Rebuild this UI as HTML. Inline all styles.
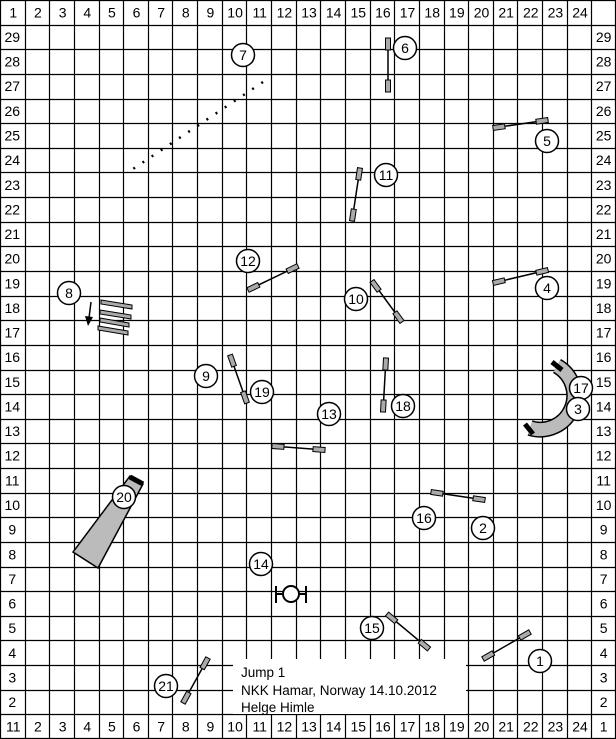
<!DOCTYPE html>
<html><head><meta charset="utf-8"><style>
html,body{margin:0;padding:0;background:#fff;}
svg{display:block;font-family:"Liberation Sans",sans-serif;}
</style></head><body>
<svg width="616" height="739" viewBox="0 0 616 739" xmlns="http://www.w3.org/2000/svg">
<defs>
<g id="w"><rect x="-6" y="-2.5" width="12" height="5" fill="#aaa" stroke="#000" stroke-width="1"/></g>
</defs>
<rect width="616" height="739" fill="#fff"/>
<g id="grid" stroke="#000" stroke-width="1.2"></g>
<g id="labels" font-size="14" text-anchor="middle" fill="#000"></g>
<!-- text box -->
<rect x="233" y="659" width="233" height="55" fill="#fff"/>
<g font-size="13.5" fill="#000">
<text x="241" y="677">Jump 1</text>
<text x="241" y="695">NKK Hamar, Norway 14.10.2012</text>
<text x="241" y="712">Helge Himle</text>
</g>
<!-- dotted line 7 -->
<line x1="263" y1="82" x2="127" y2="173" stroke="#000" stroke-width="2.5" stroke-dasharray="2,9"/>
<!-- jumps -->
<g id="jumps" stroke="#000" stroke-width="1.5"></g>
<!-- tunnel 20 -->
<polygon points="130,476 143,484 98,568 73,552" fill="#bbb" stroke="#000" stroke-width="1.5"/>
<line x1="130" y1="477" x2="143" y2="484" stroke="#000" stroke-width="5"/>
<!-- curved tunnel -->
<path d="M557,366 A34 34 0 0 1 530,428" fill="none" stroke="#000" stroke-width="16"/>
<path d="M557,366 A34 34 0 0 1 530,428" fill="none" stroke="#bbb" stroke-width="13"/>
<line x1="552" y1="362" x2="562" y2="370" stroke="#000" stroke-width="5"/>
<line x1="525" y1="424" x2="533" y2="434" stroke="#000" stroke-width="5"/>
<!-- weave 8 -->
<g stroke="#000" stroke-width="1" fill="#aaa">
<polygon points="101,300 132,305 132,309 101,304"/>
<polygon points="100,310 131,315 131,319 100,314"/>
<polygon points="100,318 129,323 129,327 100,322"/>
<polygon points="98,326 128,331 128,335 98,330"/>
</g>
<line x1="91" y1="302" x2="89" y2="318" stroke="#000" stroke-width="1.5"/>
<polygon points="85,316 93,317 88,326" fill="#000"/>
<!-- tire 14 -->
<g stroke="#000" stroke-width="2" fill="#fff">
<line x1="276" y1="594" x2="306" y2="594"/>
<line x1="276" y1="586" x2="276" y2="603"/>
<line x1="306" y1="586" x2="306" y2="603"/>
<circle cx="291" cy="594" r="8"/>
</g>
<g id="circles" font-size="14" text-anchor="middle"></g>
</svg>
<script>
var NS="http://www.w3.org/2000/svg";
var cw=616/25, ch=739/30;
var g=document.getElementById('grid');
function el(p,t,a){var e=document.createElementNS(NS,t);for(var k in a)e.setAttribute(k,a[k]);p.appendChild(e);return e;}
for(var i=0;i<=25;i++){var x=Math.round(i*cw)+0.5;if(i==25)x=615.5;el(g,'line',{x1:x,y1:0,x2:x,y2:739});}
for(var j=0;j<=30;j++){var y=Math.round(j*ch)+0.5;if(j==30)y=738.5;el(g,'line',{x1:0,y1:y,x2:616,y2:y});}
var L=document.getElementById('labels');
function t(p,x,y,s){var e=el(p,'text',{x:x,y:y});e.textContent=s;}
for(var i=0;i<24;i++){t(L,i*cw+cw/2+1,ch/2+5,String(i+1));t(L,i*cw+cw/2+1,29*ch+ch/2+5,i==0?"11":String(i+1));}
t(L,24*cw+cw/2,29*ch+ch/2+5,"1");
for(var j=1;j<29;j++){t(L,cw/2,j*ch+ch/2+5,String(30-j));t(L,24*cw+cw/2,j*ch+ch/2+5,String(30-j));}
var J=document.getElementById('jumps');
function jump(x1,y1,x2,y2){el(J,'line',{x1:x1,y1:y1,x2:x2,y2:y2});
 var a=Math.atan2(y2-y1,x2-x1)*180/Math.PI,len=Math.hypot(x2-x1,y2-y1),ux=(x2-x1)/len,uy=(y2-y1)/len;
 [[x1+ux*6,y1+uy*6],[x2-ux*6,y2-uy*6]].forEach(function(p){el(J,'use',{href:'#w',transform:'translate('+p[0]+','+p[1]+') rotate('+a+')'});});}
jump(388,38,388,92);jump(493,128,548,120);jump(360,168,352,221);jump(248,290,298,266);
jump(493,283,548,270);jump(372,281,402,322);jump(230,355,247,403);jump(386,358,383,412);
jump(272,446,325,450);jump(431,492,485,500);jump(387,614,429,649);jump(483,659,530,632);jump(208,658,183,703);
var C=document.getElementById('circles');
[[405,48,6],[243,55,7],[547,141,5],[386,175,11],[248,261,12],[547,288,4],[356,299,10],[69,293,8],
[206,376,9],[262,392,19],[403,406,18],[329,414,13],[581,388,17],[578,409,3],[124,497,20],[424,518,16],
[483,528,2],[261,564,14],[372,628,15],[540,661,1],[166,686,21]].forEach(function(c){
 el(C,'circle',{cx:c[0],cy:c[1],r:11.5,fill:'#fff',stroke:'#000','stroke-width':1.5});t(C,c[0],c[1]+5,String(c[2]));});
</script>
</body></html>
